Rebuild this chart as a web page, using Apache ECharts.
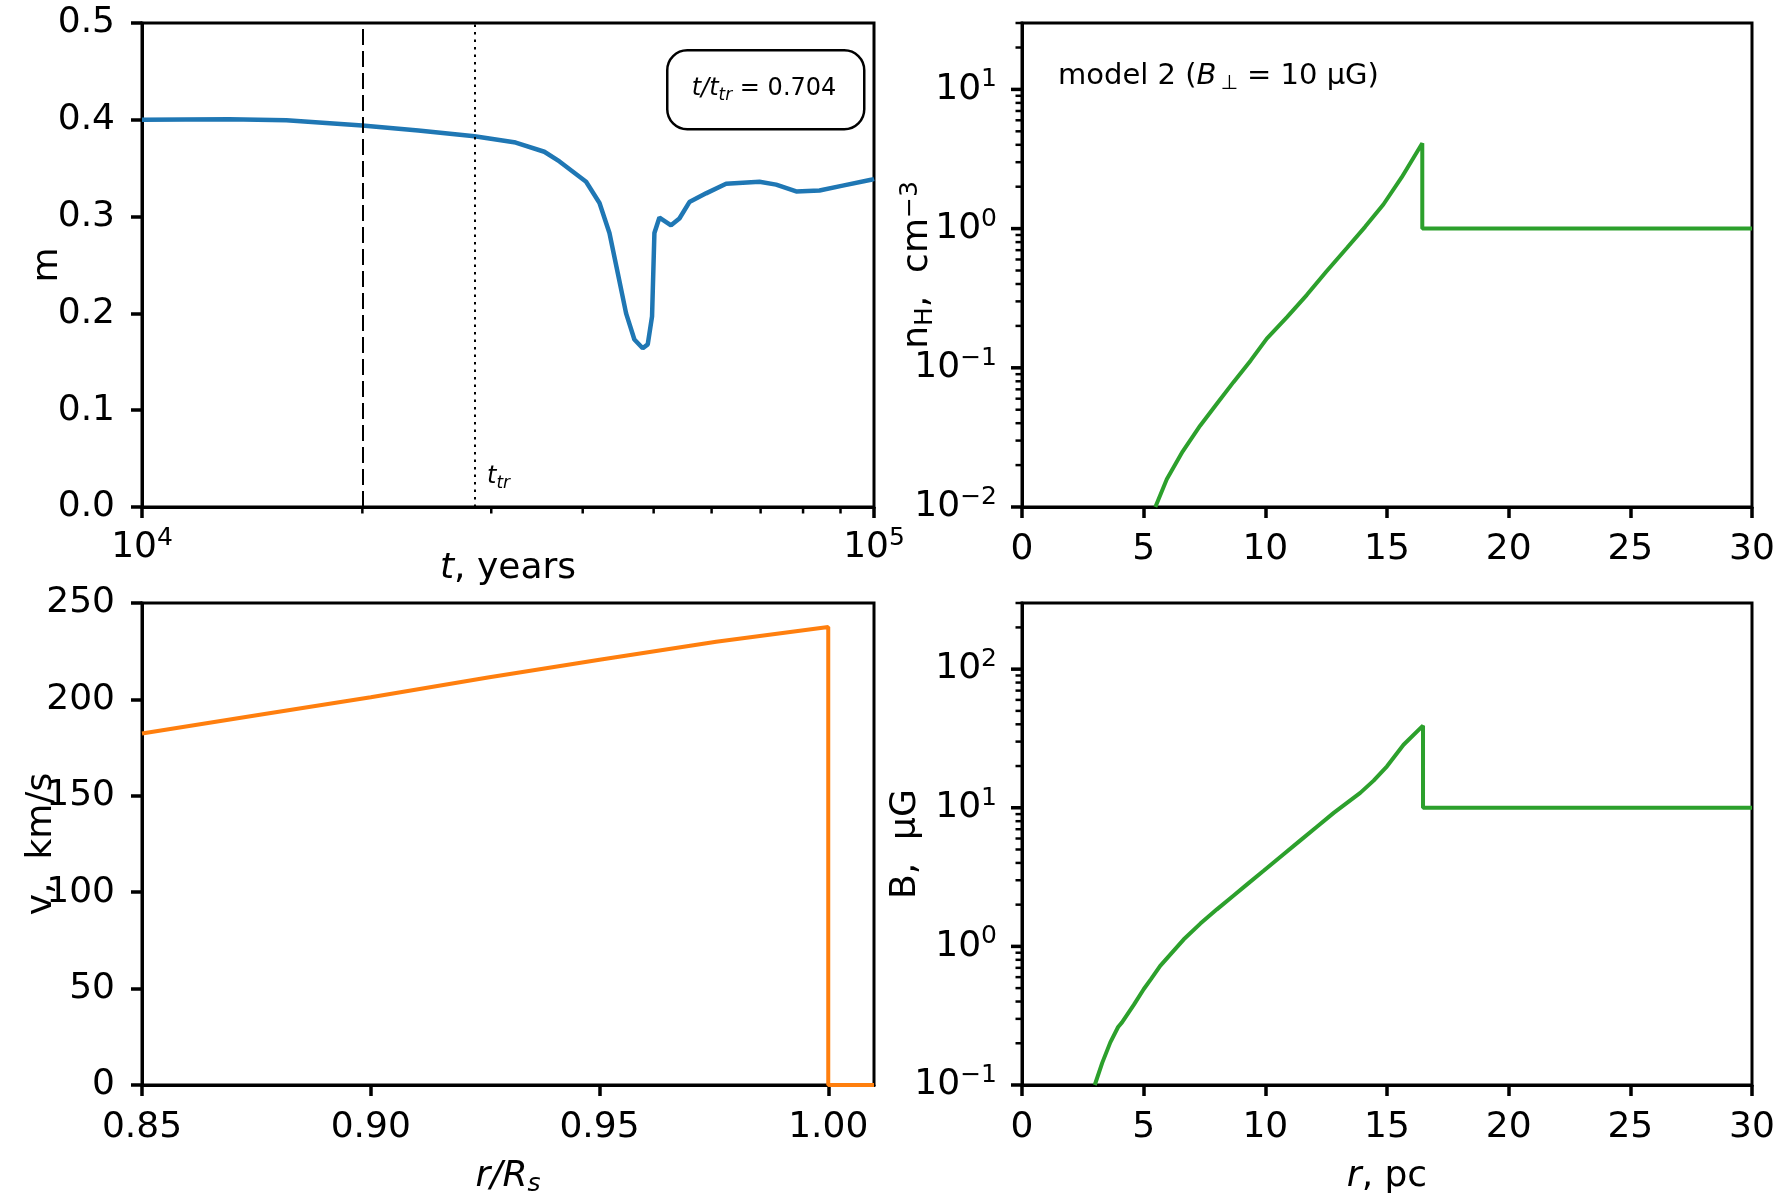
<!DOCTYPE html>
<html>
<head>
<meta charset="utf-8">
<script src="https://cdn.jsdelivr.net/npm/echarts@6/dist/echarts.min.js"></script>
<style>
  html, body { margin: 0; background: #fff; }
  #chart { width: 1788px; height: 1200px; }
</style>
</head>
<body>
<div id="chart"></div>
<script>
// --- data ---
// top left: asymmetry m against time
const tYears = [10000, 13150, 15750, 19990, 23850, 28460, 32400, 35450, 37180, 40430, 42170,
  43510, 44670, 45850, 47060, 48310, 49080, 49750, 50120, 50920, 52810, 54220, 55950, 58960,
  62800, 69750, 73500, 78290, 84240, 90620, 99080, 100000];
const mValues = [0.400, 0.4006, 0.3995, 0.394, 0.389, 0.383, 0.3765, 0.367, 0.357, 0.336, 0.314,
  0.283, 0.2415, 0.200, 0.173, 0.164, 0.168, 0.197, 0.283, 0.299, 0.291, 0.298, 0.315, 0.324,
  0.334, 0.336, 0.333, 0.326, 0.327, 0.332, 0.338, 0.339];
const tDashed = 20000;
const tTransition = 28500;

// top right: density profile
const rDensity = [5.48, 5.95, 6.6, 7.32, 8.0, 8.69, 9.4, 10.06, 10.9, 11.7, 12.5, 13.35, 14.1,
  14.85, 15.6, 16.45, 16.45, 20, 25, 30];
const nH = [0.01, 0.0158, 0.025, 0.0384, 0.055, 0.0789, 0.113, 0.162, 0.232, 0.333, 0.49, 0.726,
  1.03, 1.49, 2.33, 4.1, 1.0, 1.0, 1.0, 1.0];

// bottom left: velocity profile
const rRs = [0.85, 0.8754, 0.90, 0.9256, 0.95, 0.9755, 1.0, 1.0, 1.01];
const velocity = [182.3, 191.9, 201.1, 211.4, 220.6, 229.9, 237.5, 0, 0];

// bottom right: magnetic field profile
const rField = [2.99, 3.3, 3.63, 3.95, 4.11, 4.15, 4.6, 5.0, 5.3, 5.35, 5.68, 6.64, 7.33, 8.01,
  8.7, 9.25, 9.93, 10.75, 11.44, 12.12, 12.81, 13.9, 14.45, 15.0, 15.68, 16.48, 16.48, 30];
const bField = [0.1, 0.145, 0.203, 0.262, 0.283, 0.276, 0.38, 0.491, 0.58, 0.57, 0.723, 1.12,
  1.46, 1.85, 2.33, 2.80, 3.51, 4.62, 5.82, 7.30, 9.19, 12.8, 15.7, 19.9, 28.5, 39.1, 10, 10];

// tick values
const rRsTicks = [0.85, 0.90, 0.95, 1.00];

const FONT = 'DejaVu Sans';
const BLACK = '#000';

const chart = echarts.init(document.getElementById('chart'));

// decade + minor ticks of a log axis, as [value, length]
function logTicks(lo, hi) {
  const out = [];
  for (let e = Math.floor(Math.log10(lo)); e <= Math.ceil(Math.log10(hi)); e++) {
    for (let k = 1; k <= 9; k++) {
      const v = k * Math.pow(10, e);
      if (v >= lo * 0.9999 && v <= hi * 1.0001) out.push([v, k === 1 ? 11 : 6.5]);
    }
  }
  return out;
}

function powLabel(v) {
  const l = Math.log10(v);
  const e = Math.round(l);
  if (Math.abs(l - e) > 1e-6) return '';
  return '{b|10}{s|' + (e < 0 ? '\u2212' + (-e) : e) + '}';
}

const tickRich = {
  b: { fontFamily: FONT, fontSize: 36, color: BLACK, lineHeight: 44 },
  s: { fontFamily: FONT, fontSize: 25, color: BLACK, lineHeight: 30, verticalAlign: 'top' }
};
const nameRich = {
  n: { fontFamily: FONT, fontSize: 36, color: BLACK, lineHeight: 40 },
  i: { fontFamily: FONT, fontSize: 36, color: BLACK, fontStyle: 'italic', lineHeight: 40 },
  sub: { fontFamily: FONT, fontSize: 25, color: BLACK, lineHeight: 28, verticalAlign: 'bottom' },
  isub: { fontFamily: FONT, fontSize: 25, color: BLACK, fontStyle: 'italic', lineHeight: 28, verticalAlign: 'bottom' },
  sup: { fontFamily: FONT, fontSize: 25, color: BLACK, lineHeight: 28, verticalAlign: 'top' }
};

const axisLine = { show: true, onZero: false, lineStyle: { color: BLACK, width: 3 } };
const majorTick = { show: true, length: 11, lineStyle: { color: BLACK, width: 3.5 } };
const tickLabel = { fontFamily: FONT, fontSize: 36, color: BLACK };

function linearAxis(extra) {
  return Object.assign({
    type: 'value',
    axisLine: axisLine,
    axisTick: majorTick,
    splitLine: { show: false },
    axisLabel: Object.assign({ margin: 25 }, tickLabel),
    nameLocation: 'middle',
    nameTextStyle: { rich: nameRich }
  }, extra);
}

function logAxis(extra) {
  return Object.assign({
    type: 'log', logBase: 10,
    axisLine: axisLine, axisTick: { show: false }, splitLine: { show: false },
    axisLabel: { margin: 25, formatter: powLabel, rich: tickRich },
    nameLocation: 'middle',
    nameTextStyle: { rich: nameRich }
  }, extra);
}

const grids = [
  { left: 142, top: 23, width: 732, height: 484 },
  { left: 1022, top: 23, width: 730, height: 484 },
  { left: 142, top: 603, width: 732, height: 482 },
  { left: 1022, top: 603, width: 730, height: 482 }
].map(g => Object.assign({ show: true, borderColor: BLACK, borderWidth: 3, backgroundColor: 'transparent' }, g));

const annotations = [
  {
    type: 'rect', left: 666, top: 49,
    shape: { width: 197, height: 79, r: 20 },
    style: { fill: '#fff', stroke: BLACK, lineWidth: 2.5 }
  },
  {
    type: 'text',
    style: {
      x: 764, y: 89, align: 'center', verticalAlign: 'middle',
      text: '{i|t/t}{s|tr}{n| = 0.704}',
      rich: {
        i: { fontFamily: FONT, fontSize: 24, fontStyle: 'italic', color: BLACK, lineHeight: 30 },
        s: { fontFamily: FONT, fontSize: 17, fontStyle: 'italic', color: BLACK, lineHeight: 20, verticalAlign: 'bottom' },
        n: { fontFamily: FONT, fontSize: 24, color: BLACK, lineHeight: 30 }
      }
    }
  },
  {
    type: 'text',
    style: {
      x: 487, y: 477, align: 'left', verticalAlign: 'middle',
      text: '{i|t}{s|tr}',
      rich: {
        i: { fontFamily: FONT, fontSize: 24, fontStyle: 'italic', color: BLACK, lineHeight: 30 },
        s: { fontFamily: FONT, fontSize: 17, fontStyle: 'italic', color: BLACK, lineHeight: 20, verticalAlign: 'bottom' }
      }
    }
  },
  {
    type: 'text',
    style: {
      x: 1058, y: 76, align: 'left', verticalAlign: 'middle',
      text: '{n|model 2 (}{i|B}{s|\u2009\u22a5}{n| = 10 \u03bcG)}',
      rich: {
        n: { fontFamily: FONT, fontSize: 29, color: BLACK, lineHeight: 36 },
        i: { fontFamily: FONT, fontSize: 29, fontStyle: 'italic', color: BLACK, lineHeight: 36 },
        s: { fontFamily: FONT, fontSize: 20, color: BLACK, lineHeight: 24, verticalAlign: 'bottom' }
      }
    }
  }
];

const option = {
  animation: false,
  backgroundColor: '#fff',
  grid: grids,
  xAxis: [
    logAxis({
      gridIndex: 0, min: 1e4, max: 1e5,
      axisLabel: { margin: 19, formatter: powLabel, rich: tickRich },
      name: '{i|t}{n|, years}', nameGap: 42, nameMoveOverlap: false
    }),
    linearAxis({ gridIndex: 1, min: 0, max: 30, interval: 5 }),
    linearAxis({
      gridIndex: 2, min: 0.85, max: 1.01,
      axisTick: Object.assign({ customValues: rRsTicks }, majorTick),
      axisLabel: Object.assign({ margin: 25, customValues: rRsTicks, formatter: v => v.toFixed(2) }, tickLabel),
      name: '{i|r/R}{isub|s}', nameGap: 72
    }),
    linearAxis({
      gridIndex: 3, min: 0, max: 30, interval: 5,
      name: '{i|r}{n|, pc}', nameGap: 72
    })
  ],
  yAxis: [
    linearAxis({
      gridIndex: 0, min: 0, max: 0.5, interval: 0.1,
      axisLabel: Object.assign({ margin: 27, formatter: v => v.toFixed(1) }, tickLabel),
      name: '{n|m}', nameGap: 74, nameMoveOverlap: false
    }),
    logAxis({
      gridIndex: 1, min: 0.01, max: 30,
      axisLabel: { margin: 25, formatter: powLabel, rich: tickRich, showMaxLabel: false },
      name: '{n|n}{sub|H}{n|,  cm}{sup|\u22123}', nameGap: 84, nameMoveOverlap: false
    }),
    linearAxis({
      gridIndex: 2, min: 0, max: 250, interval: 50,
      axisLabel: Object.assign({ margin: 27 }, tickLabel),
      name: '{n|v,  km/s}', nameGap: 80, nameMoveOverlap: false
    }),
    logAxis({
      gridIndex: 3, min: 0.1, max: 300,
      axisLabel: { margin: 25, formatter: powLabel, rich: tickRich, showMaxLabel: false },
      name: '{n|B,  \u03bcG}', nameGap: 96, nameMoveOverlap: false
    })
  ],
  series: [
    {
      type: 'line', xAxisIndex: 0, yAxisIndex: 0, symbol: 'none',
      data: tYears.map((t, i) => [t, mValues[i]]),
      lineStyle: { color: '#1f77b4', width: 4.5 },
      markLine: {
        silent: true, symbol: 'none', label: { show: false },
        data: [
          { xAxis: tDashed, lineStyle: { color: BLACK, width: 2, type: [16, 6] } },
          { xAxis: tTransition, lineStyle: { color: BLACK, width: 2, type: [2.5, 5] } }
        ]
      }
    },
    {
      type: 'line', xAxisIndex: 1, yAxisIndex: 1, symbol: 'none',
      data: rDensity.map((r, i) => [r, nH[i]]),
      lineStyle: { color: '#2ca02c', width: 4 }
    },
    {
      type: 'line', xAxisIndex: 2, yAxisIndex: 2, symbol: 'none',
      data: rRs.map((r, i) => [r, velocity[i]]),
      lineStyle: { color: '#ff7f0e', width: 4 }
    },
    {
      type: 'line', xAxisIndex: 3, yAxisIndex: 3, symbol: 'none',
      data: rField.map((r, i) => [r, bField[i]]),
      lineStyle: { color: '#2ca02c', width: 4 }
    }
  ],
  graphic: annotations
};

chart.setOption(option);

// log-axis major/minor ticks, placed through the chart's own scales
const tickLines = [];
function addTicks(gridIndex, dir, list) {
  list.forEach(([v, len]) => {
    const p = chart.convertToPixel({ gridIndex: gridIndex }, dir === 'x' ? [v, 0] : [0, v]);
    if (!p || !isFinite(p[0]) || !isFinite(p[1])) return;
    const shape = dir === 'x'
      ? { x1: p[0], y1: p[1], x2: p[0], y2: p[1] + len }
      : { x1: p[0] - len, y1: p[1], x2: p[0], y2: p[1] };
    tickLines.push({ type: 'line', z: 100, silent: true, shape: shape, style: { stroke: BLACK, lineWidth: len > 8 ? 3.5 : 2.5 } });
  });
}
addTicks(0, 'x', logTicks(1e4, 1e5));
addTicks(1, 'y', logTicks(0.01, 30));
addTicks(3, 'y', logTicks(0.1, 300));

chart.setOption({ graphic: annotations.concat(tickLines) });
</script>
</body>
</html>
